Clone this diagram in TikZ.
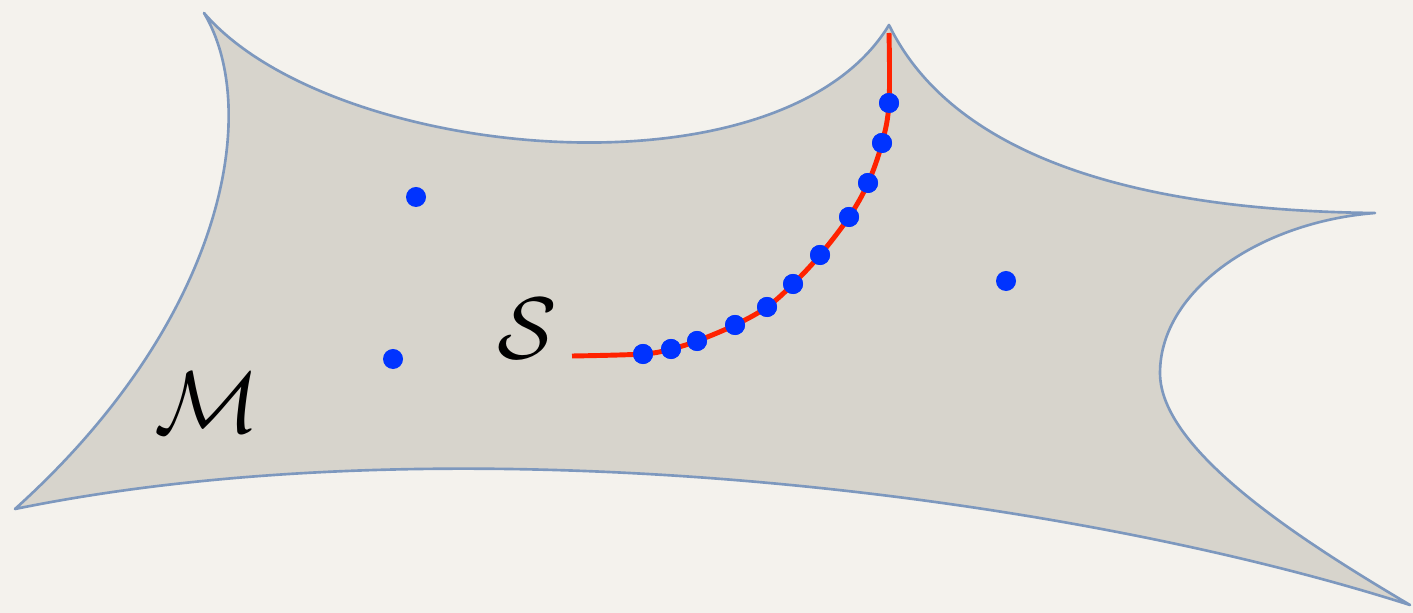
\documentclass[tikz,border=0pt]{standalone}
\usepackage{amsmath}
\definecolor{paper}{HTML}{F4F2ED}
\definecolor{manifold}{HTML}{D7D4CC}
\definecolor{edge}{HTML}{7D98BE}
\definecolor{curvered}{HTML}{FF2200}
\definecolor{dotblue}{HTML}{0033FF}
\tikzset{
  surface/.style={fill=manifold, draw=edge, line width=0.75pt, line join=round},
  redcurve/.style={draw=curvered, line width=1.4pt},
  sample/.style={circle, fill=dotblue, inner sep=0pt, minimum size=0.2cm},
  biglabel/.style={inner sep=0pt, text=black}
}
\begin{document}
\begin{tikzpicture}[x=0.01cm, y=-0.01cm]
\fill[paper] (0,0) rectangle (1413,613);
\useasboundingbox (0,0) rectangle (1413,613);
% corners of the manifold
\coordinate (A) at (204,13);
\coordinate (B) at (889,25);
\coordinate (C) at (1375,213);
\coordinate (L) at (1160,373);
\coordinate (D) at (1410,605);
\coordinate (E) at (15,509);
\path[surface] (A) .. controls (330,160) and (780,205) .. (B)
  .. controls (940,130) and (1080,210) .. (C)
  .. controls (1260,222) and (1160,290) .. (L)
  .. controls (1160,450) and (1300,540) .. (D)
  .. controls (1050,490) and (450,420) .. (E)
  .. controls (225,320) and (262,110) .. (A) -- cycle;
% sample points on the curve
\coordinate (s0) at (572,356);
\coordinate (s12) at (889,33);
\node[sample] (d1) at (643,354) {};
\node[sample] (d2) at (671,349) {};
\node[sample] (d3) at (697,341) {};
\node[sample] (d4) at (735,325) {};
\node[sample] (d5) at (767,307) {};
\node[sample] (d6) at (793,284) {};
\node[sample] (d7) at (820,255) {};
\node[sample] (d8) at (849,217) {};
\node[sample] (d9) at (868,183) {};
\node[sample] (d10) at (882,143) {};
\node[sample] (d11) at (889,103) {};
\draw[redcurve] plot[smooth, tension=0.6] coordinates {(s0) (d1.center) (d2.center) (d3.center) (d4.center) (d5.center) (d6.center) (d7.center) (d8.center) (d9.center) (d10.center) (d11.center) (s12)};
\foreach \i in {1,...,11} { \fill[dotblue] (d\i.center) circle[radius=0.1cm]; }
% isolated points
\node[sample] (p1) at (416,197) {};
\node[sample] (p2) at (393,359) {};
\node[sample] (p3) at (1006,281) {};
% labels
\node[biglabel] (lS) at (527,329) {\fontsize{29}{32}\selectfont$\mathcal{S}$};
\node[biglabel] (lM) at (207,403) {\fontsize{33}{36}\selectfont$\mathcal{M}$};
\end{tikzpicture}
\end{document}
